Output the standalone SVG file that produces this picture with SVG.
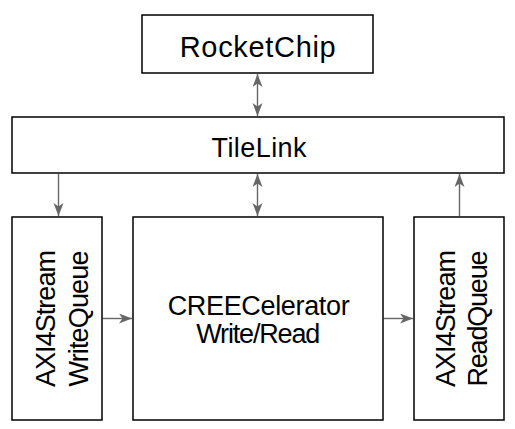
<svg xmlns="http://www.w3.org/2000/svg" width="515" height="429" viewBox="0 0 515 429">
  <style>
    .box { fill: #ffffff; stroke: #000000; stroke-width: 1.5; }
    .lbl { font-family: "Liberation Sans", Arial, sans-serif; font-size: 27px; fill: #000000; text-anchor: middle; }
    .big { font-size: 29px; }
    .q { font-size: 27px; }
    .conn { stroke: #666666; stroke-width: 1.4; fill: none; }
  </style>
  <defs>
    <marker id="arr" markerUnits="userSpaceOnUse" markerWidth="14" markerHeight="11" refX="13" refY="5" orient="auto-start-reverse" viewBox="0 0 14 11">
      <path d="M0,0 L13,5 L0,10 L3.5,5 Z" fill="#666666"/>
    </marker>
  </defs>
  <rect width="515" height="429" fill="#ffffff"/>

  <g id="connectors">
    <line class="conn" x1="257.5" y1="74" x2="257.5" y2="116" marker-start="url(#arr)" marker-end="url(#arr)"/>
    <line class="conn" x1="58.5" y1="174" x2="58.5" y2="216" marker-end="url(#arr)"/>
    <line class="conn" x1="257.5" y1="174" x2="257.5" y2="216" marker-start="url(#arr)" marker-end="url(#arr)"/>
    <line class="conn" x1="459.5" y1="216" x2="459.5" y2="174" marker-end="url(#arr)"/>
    <line class="conn" x1="102.5" y1="318.5" x2="132" y2="318.5" marker-end="url(#arr)"/>
    <line class="conn" x1="383.5" y1="318.5" x2="413" y2="318.5" marker-end="url(#arr)"/>
  </g>

  <g id="rocketchip">
    <rect class="box" x="142" y="15" width="231" height="58"/>
    <text class="lbl big" x="257.7" y="56.5" textLength="156" lengthAdjust="spacing">RocketChip</text>
  </g>

  <g id="tilelink">
    <rect class="box" x="12" y="117" width="492" height="56"/>
    <text class="lbl" x="259" y="156.5" textLength="95" lengthAdjust="spacing">TileLink</text>
  </g>

  <g id="writequeue">
    <rect class="box" x="12" y="217" width="90" height="203"/>
    <g transform="translate(0,318.5) rotate(-90)">
      <text class="lbl q" x="0" y="55" textLength="137" lengthAdjust="spacing">AXI4Stream</text>
      <text class="lbl q" x="0" y="87.5" textLength="136" lengthAdjust="spacing">WriteQueue</text>
    </g>
  </g>

  <g id="creecelerator">
    <rect class="box" x="133" y="217" width="250" height="203"/>
    <text class="lbl" x="258.7" y="315" textLength="182" lengthAdjust="spacing">CREECelerator</text>
    <text class="lbl" x="258.3" y="343" textLength="124" lengthAdjust="spacing">Write/Read</text>
  </g>

  <g id="readqueue">
    <rect class="box" x="414" y="217" width="90" height="203"/>
    <g transform="translate(0,318.5) rotate(-90)">
      <text class="lbl q" x="0" y="455" textLength="137" lengthAdjust="spacing">AXI4Stream</text>
      <text class="lbl q" x="0" y="487" textLength="136" lengthAdjust="spacing">ReadQueue</text>
    </g>
  </g>
</svg>
